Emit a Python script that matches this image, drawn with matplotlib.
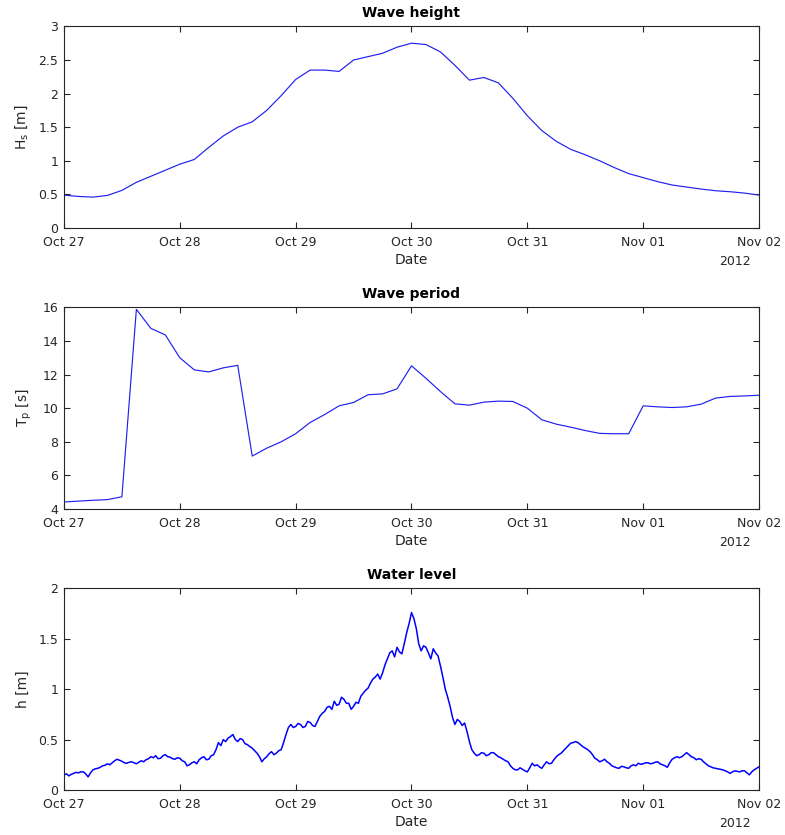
import numpy as np
import pandas as pd
import matplotlib
matplotlib.use('Agg')
import matplotlib.pyplot as plt
import matplotlib.dates as mdates
from matplotlib.ticker import FuncFormatter

# datos (horas desde 27 oct 2012 00:00)
start = pd.Timestamp('2012-10-27')
end = pd.Timestamp('2012-11-02')

wave_hours = list(range(0, 145, 3))
hs = [0.49, 0.47, 0.46, 0.485, 0.56, 0.68, 0.77, 0.86, 0.95, 1.02, 1.20, 1.37,
      1.50, 1.58, 1.75, 1.97, 2.21, 2.35, 2.35, 2.33, 2.50, 2.55, 2.60, 2.69,
      2.75, 2.73, 2.62, 2.42, 2.20, 2.24, 2.16, 1.93, 1.67, 1.45, 1.29, 1.17,
      1.09, 1.00, 0.90, 0.81, 0.75, 0.69, 0.64, 0.61, 0.58, 0.555, 0.54, 0.52,
      0.49]
tp = [4.42, 4.47, 4.52, 4.56, 4.73, 15.88, 14.75, 14.36, 13.0, 12.28, 12.16, 12.4,
      12.55, 7.15, 7.62, 8.0, 8.48, 9.15, 9.62, 10.14, 10.34, 10.8, 10.85, 11.15,
      12.52, 11.78, 10.99, 10.26, 10.18, 10.36, 10.42, 10.4, 10.0, 9.31, 9.05, 8.87,
      8.67, 8.5, 8.48, 8.48, 10.14, 10.08, 10.04, 10.08, 10.24, 10.6, 10.7, 10.73,
      10.77]

# nivel de agua cada media hora
wl_hours = [i * 0.5 for i in range(289)]
wl = [0.15, 0.16, 0.14, 0.155, 0.165, 0.175, 0.17, 0.18, 0.18, 0.16, 0.13, 0.17,
      0.20, 0.21, 0.215, 0.225, 0.24, 0.245, 0.26, 0.25, 0.27, 0.29, 0.305, 0.295,
      0.285, 0.27, 0.265, 0.275, 0.28, 0.27, 0.26, 0.275, 0.29, 0.28, 0.30, 0.31,
      0.33, 0.32, 0.34, 0.31, 0.315, 0.34, 0.35, 0.33, 0.325, 0.31, 0.305, 0.32,
      0.315, 0.29, 0.28, 0.24, 0.25, 0.27, 0.28, 0.26, 0.30, 0.32, 0.33, 0.30,
      0.305, 0.34, 0.35, 0.40, 0.47, 0.44, 0.50, 0.48, 0.515, 0.53, 0.55, 0.50,
      0.48, 0.51, 0.50, 0.46, 0.45, 0.43, 0.415, 0.39, 0.365, 0.33, 0.28, 0.31,
      0.33, 0.36, 0.38, 0.35, 0.365, 0.39, 0.40, 0.47, 0.55, 0.62, 0.65, 0.62,
      0.63, 0.66, 0.65, 0.62, 0.63, 0.68, 0.67, 0.64, 0.63, 0.68, 0.73, 0.76,
      0.78, 0.82, 0.83, 0.80, 0.88, 0.84, 0.85, 0.92, 0.90, 0.86, 0.86, 0.80,
      0.83, 0.87, 0.86, 0.93, 0.96, 0.99, 1.01, 1.06, 1.10, 1.12, 1.15, 1.10,
      1.16, 1.24, 1.30, 1.36, 1.38, 1.32, 1.415, 1.37, 1.35, 1.45, 1.56, 1.65,
      1.76, 1.70, 1.60, 1.45, 1.38, 1.43, 1.415, 1.36, 1.30, 1.40, 1.36, 1.33,
      1.23, 1.12, 1.0, 0.92, 0.83, 0.72, 0.65, 0.70, 0.68, 0.64, 0.665, 0.58,
      0.48, 0.40, 0.365, 0.34, 0.35, 0.37, 0.365, 0.34, 0.35, 0.37, 0.37, 0.35,
      0.33, 0.32, 0.305, 0.29, 0.28, 0.24, 0.215, 0.20, 0.20, 0.22, 0.205, 0.19,
      0.18, 0.22, 0.265, 0.24, 0.25, 0.23, 0.215, 0.25, 0.28, 0.26, 0.265, 0.30,
      0.33, 0.35, 0.365, 0.39, 0.415, 0.44, 0.465, 0.47, 0.48, 0.47, 0.45, 0.43,
      0.415, 0.40, 0.38, 0.35, 0.315, 0.30, 0.28, 0.29, 0.305, 0.28, 0.265, 0.24,
      0.23, 0.22, 0.215, 0.235, 0.23, 0.22, 0.215, 0.24, 0.25, 0.24, 0.265, 0.255,
      0.26, 0.27, 0.27, 0.26, 0.265, 0.275, 0.28, 0.26, 0.25, 0.24, 0.225, 0.27,
      0.305, 0.32, 0.33, 0.32, 0.33, 0.35, 0.37, 0.35, 0.33, 0.32, 0.30, 0.31,
      0.305, 0.28, 0.26, 0.24, 0.23, 0.22, 0.215, 0.21, 0.205, 0.20, 0.19, 0.18,
      0.165, 0.18, 0.19, 0.185, 0.18, 0.19, 0.19, 0.17, 0.15, 0.18, 0.20, 0.215,
      0.23]

wave_t = [start + pd.Timedelta(hours=h) for h in wave_hours]
wl_t = [start + pd.Timedelta(hours=h) for h in wl_hours]

panels = [
    (wave_t, hs, 'Wave height', r'H$_\mathrm{s}$ [m]', (0, 3), np.arange(0, 3.01, 0.5), '#2020f0', 0.85),
    (wave_t, tp, 'Wave period', r'T$_\mathrm{p}$ [s]', (4, 16), np.arange(4, 16.1, 2), '#2020f0', 0.85),
    (wl_t, wl, 'Water level', 'h [m]', (0, 2), np.arange(0, 2.01, 0.5), '#0000ff', 1.1),
]

fig = plt.figure(figsize=(7.85, 8.35), dpi=100)
bottoms = [0.7269, 0.3904, 0.0539]
gray = '#262626'

for (t, y, title, ylab, ylim, yticks, col, lw), b in zip(panels, bottoms):
    ax = fig.add_axes([0.0815, b, 0.8854, 0.2415])
    ax.plot(t, y, color=col, lw=lw)
    ax.set_xlim(start, end)
    ax.set_ylim(*ylim)
    ax.set_yticks(yticks)
    ax.yaxis.set_major_formatter(FuncFormatter(lambda v, p: '%g' % v))
    ax.xaxis.set_major_locator(mdates.DayLocator())
    ax.xaxis.set_major_formatter(mdates.DateFormatter('%b %d'))
    ax.tick_params(direction='in', top=True, right=True, length=4.5, width=0.8,
                   labelsize=9, colors=gray)
    ax.tick_params(axis='x', pad=5.5)
    ax.tick_params(axis='y', pad=4)
    for s in ax.spines.values():
        s.set_color(gray)
        s.set_linewidth(0.8)
    ax.set_title(title, fontsize=10, fontweight='bold', pad=7)
    ax.set_xlabel('Date', fontsize=10, color=gray, labelpad=3)
    ax.set_ylabel(ylab, fontsize=10, color=gray, labelpad=6)
    ax.text(0.988, -0.165, '2012', transform=ax.transAxes, ha='right', va='center',
            fontsize=9, color=gray)

fig.savefig('out.png', dpi=100)
